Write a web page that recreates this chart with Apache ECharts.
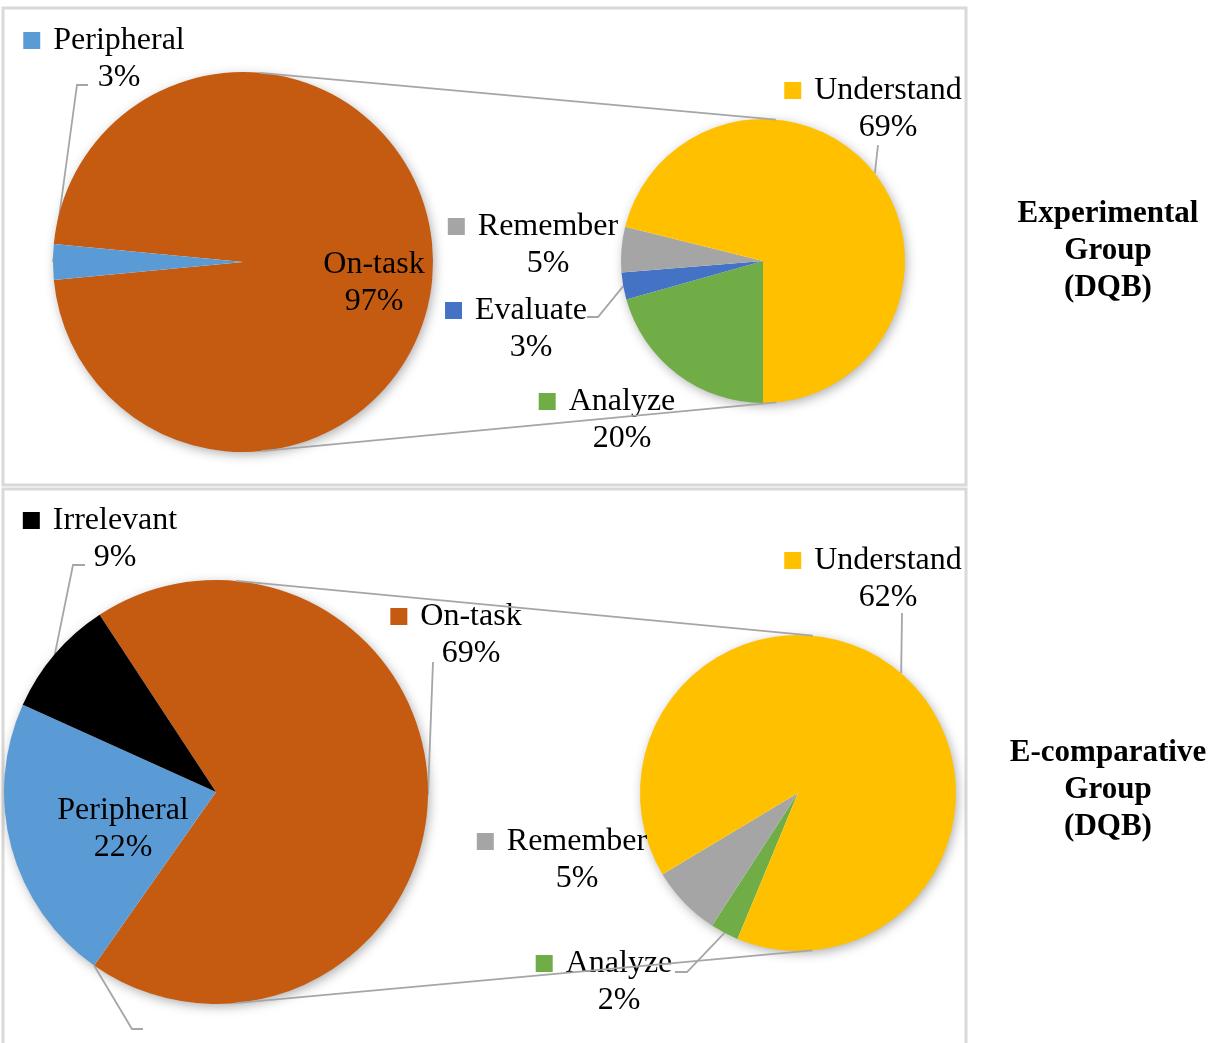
<!DOCTYPE html>
<html>
<head>
<meta charset="utf-8">
<script src="https://cdn.jsdelivr.net/npm/echarts@6/dist/echarts.min.js"></script>
<style>
html, body { margin: 0; padding: 0; background: #fff; }
#chartmain { width: 1219px; height: 1043px; }
</style>
</head>
<body>
<div id="chartmain"></div>
<script>
// data
var topCats = ['On-task', 'Peripheral'];
var topVals = [97, 3];
var topSubCats = ['Analyze', 'Evaluate', 'Remember', 'Understand'];
var topSubVals = [20, 3, 5, 69];
var botCats = ['On-task', 'Peripheral', 'Irrelevant'];
var botVals = [69, 22, 9];
var botSubCats = ['Analyze', 'Remember', 'Understand'];
var botSubVals = [2, 5, 62];
var groupNames = ['Experimental\nGroup\n(DQB)', 'E-comparative\nGroup\n(DQB)'];

var colorMap = {
	'On-task' : '#C55A11',
	'Peripheral' : '#5B9BD5',
	'Irrelevant' : '#000000',
	'Understand' : '#FFC000',
	'Remember' : '#A5A5A5',
	'Evaluate' : '#4472C4',
	'Analyze' : '#70AD47'
};

var FONT = 'Liberation Serif, Times New Roman, serif';
var LINE_COLOR = '#A6A6A6';

// pie geometry (pixels)
var pies = [
	{ cats : topCats, vals : topVals, center : [243, 262], r : 190, start : 174.6 },
	{ cats : topSubCats, vals : topSubVals, center : [763, 261], r : 142, start : 270 },
	{ cats : botCats, vals : botVals, center : [216, 792], r : 212, start : 123.3 },
	{ cats : botSubCats, vals : botSubVals, center : [798, 793], r : 158, start : 247.5 }
];

// where each label sits, and the bend of its leader line
var labelSpots = {
	'0-On-task' : { x : 374, y : 283, key : false },
	'0-Peripheral' : { x : 119, y : 59, line : [[77, 85], [88, 85]] },
	'1-Understand' : { x : 888, y : 109, line : [[878, 145]] },
	'1-Remember' : { x : 548, y : 245 },
	'1-Evaluate' : { x : 531, y : 329, line : [[598, 317], [587, 317]] },
	'1-Analyze' : { x : 622, y : 420 },
	'2-On-task' : { x : 471, y : 635, line : [[433, 662]] },
	'2-Peripheral' : { x : 123, y : 829, key : false },
	'2-Irrelevant' : { x : 115, y : 539, line : [[73, 565], [85, 565]] },
	'3-Understand' : { x : 888, y : 579, line : [[902, 613]] },
	'3-Remember' : { x : 577, y : 860 },
	'3-Analyze' : { x : 619, y : 982, line : [[687, 972], [675, 972]] }
};

function sum(arr) {
	var s = 0;
	for (var i = 0; i < arr.length; i++) s += arr[i];
	return s;
}

function pointAt(p, angleDeg) {
	var a = angleDeg * Math.PI / 180;
	return [p.center[0] + p.r * Math.cos(a), p.center[1] - p.r * Math.sin(a)];
}

// mid angle of slice i on the outer edge
function edgePoint(p, i) {
	var total = sum(p.vals);
	var before = sum(p.vals.slice(0, i));
	var mid = p.start - (before + p.vals[i] / 2) / total * 360;
	return pointAt(p, mid);
}

function makeItem(si, name, value) {
	var spot = labelSpots[si + '-' + name] || {};
	var keyed = spot.key !== false;
	var txt = { fontFamily : FONT, fontSize : 32, color : '#000', lineHeight : 37, align : 'center' };
	return {
		name : name,
		value : value,
		itemStyle : { color : colorMap[name] },
		label : {
			formatter : keyed
				? '{k| }{g| }{t|' + name + '}{p| }\n{t|' + value + '%}'
				: '{t|' + name + '}\n{t|' + value + '%}',
			rich : {
				k : { width : 17, height : 17, backgroundColor : colorMap[name], fontSize : 17, lineHeight : 37, align : 'center' },
				g : { width : 13, lineHeight : 37, align : 'center' },
				p : { width : 30, lineHeight : 37, align : 'center' },
				t : txt
			}
		},
		labelLine : { show : !!spot.line }
	};
}

function makeSeries(si) {
	var p = pies[si];
	var data = [];
	for (var i = 0; i < p.cats.length; i++) {
		data.push(makeItem(si, p.cats[i], p.vals[i]));
	}
	return {
		type : 'pie',
		z : 3,
		center : p.center,
		radius : p.r,
		startAngle : p.start,
		clockwise : true,
		avoidLabelOverlap : false,
		animation : false,
		silent : true,
		label : { show : true, position : 'outside', fontFamily : FONT, fontSize : 32, color : '#000' },
		labelLine : { lineStyle : { color : LINE_COLOR, width : 1.8 }, smooth : false },
		labelLayout : function(params) {
			var name = p.cats[params.dataIndex];
			var spot = labelSpots[si + '-' + name];
			if (!spot) return {};
			var out = { x : spot.x, y : spot.y, align : 'center', verticalAlign : 'middle' };
			if (spot.line) {
				out.labelLinePoints = [edgePoint(p, params.dataIndex)].concat(spot.line);
			}
			return out;
		},
		data : data
	};
}

// common outer tangent of two circles (top or bottom side)
function tangent(a, b, side) {
	var dx = b.center[0] - a.center[0], dy = b.center[1] - a.center[1];
	var d = Math.sqrt(dx * dx + dy * dy);
	var ux = dx / d, uy = dy / d;
	var alpha = Math.acos((a.r - b.r) / d) * side;
	var nx = ux * Math.cos(alpha) - uy * Math.sin(alpha);
	var ny = ux * Math.sin(alpha) + uy * Math.cos(alpha);
	return [
		[a.center[0] + a.r * nx, a.center[1] + a.r * ny],
		[b.center[0] + b.r * nx, b.center[1] + b.r * ny]
	];
}

var graphics = [];

// panel frames
graphics.push({ type : 'rect', z : 0, shape : { x : 3, y : 8, width : 963, height : 477 },
	style : { fill : null, stroke : '#D9D9D9', lineWidth : 3 } });
graphics.push({ type : 'rect', z : 0, shape : { x : 3, y : 489, width : 963, height : 600 },
	style : { fill : null, stroke : '#D9D9D9', lineWidth : 3 } });

// soft shadow under each pie
for (var i = 0; i < pies.length; i++) {
	graphics.push({ type : 'circle', z : 1,
		shape : { cx : pies[i].center[0], cy : pies[i].center[1], r : pies[i].r - 1 },
		style : { fill : '#fff', shadowBlur : 12, shadowColor : 'rgba(0,0,0,0.35)', shadowOffsetX : 2, shadowOffsetY : 3 } });
}

// connector lines between main and secondary pies
[[0, 1], [2, 3]].forEach(function(pair) {
	[-1, 1].forEach(function(side) {
		var t = tangent(pies[pair[0]], pies[pair[1]], side);
		graphics.push({ type : 'line', z : 4,
			shape : { x1 : t[0][0], y1 : t[0][1], x2 : t[1][0], y2 : t[1][1] },
			style : { stroke : LINE_COLOR, lineWidth : 1.8 } });
	});
});

// stray leader line under the lower main pie
(function() {
	var p = pies[2];
	var edge = p.start - p.vals[0] / sum(p.vals) * 360;
	var s = pointAt(p, edge);
	graphics.push({ type : 'polyline', z : 4,
		shape : { points : [s, [132, 1029], [143, 1029]] },
		style : { stroke : LINE_COLOR, lineWidth : 1.8, fill : null } });
})();

// group captions on the right
var captionY = [251, 790];
for (var g = 0; g < groupNames.length; g++) {
	graphics.push({ type : 'text', z : 5, x : 1108, y : captionY[g],
		style : { text : groupNames[g], fontFamily : FONT, fontSize : 31, fontWeight : 'bold',
			fill : '#000', align : 'center', verticalAlign : 'middle', lineHeight : 37 } });
}

var option = {
	backgroundColor : '#fff',
	animation : false,
	graphic : graphics,
	series : [ makeSeries(0), makeSeries(1), makeSeries(2), makeSeries(3) ]
};

var myChart = echarts.init(document.getElementById('chartmain'));
myChart.setOption(option);
</script>
</body>
</html>
